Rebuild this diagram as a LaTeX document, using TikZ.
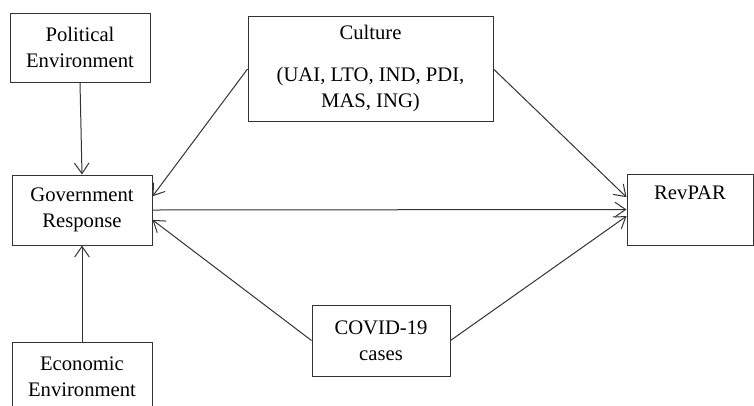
\documentclass[tikz,border=0pt]{standalone}
\usepackage{fontspec}
\setmainfont{Liberation Serif}
\usetikzlibrary{arrows.meta}

\begin{document}
\begin{tikzpicture}[
  x=0.75pt,y=-0.75pt,
  box/.style={draw=black!80, line width=0.75pt, align=center, inner sep=2pt, font=\fontsize{15.5}{19.5}\selectfont},
  arr/.style={-{Straight Barb[length=8pt,width=11pt]}, line width=0.75pt, draw=black!80}
]
\useasboundingbox (0,0) rectangle (754,405);
\clip (0,0) rectangle (754,405);
\node[box, minimum width=105pt, minimum height=51.75pt] (pol) at (80,47.5) {Political\\Environment};
\node[box, minimum width=183.75pt, minimum height=78.75pt] (cul) at (370.5,69) {Culture\\[12pt](UAI, LTO, IND, PDI,\\MAS, ING)};
\node[box, minimum width=105pt, minimum height=52.5pt] (gov) at (82,210) {Government\\Response};
\node[box, minimum width=105pt, minimum height=52.5pt] (eco) at (82,377) {Economic\\Environment};
\node[box, minimum width=103.5pt, minimum height=53.25pt] (cov) at (381,340.5) {COVID-19\\cases};
\node[box, minimum width=94.5pt, minimum height=53.25pt] (rev) at (690,209.5) {RevPAR\\\strut};
\foreach \a/\b in {pol.south/gov.north, eco.north/gov.south, cul.west/gov.11, cov.west/gov.-8,
  gov.east/rev.west, cul.east/rev.169, cov.east/rev.186}{\draw[arr] (\a) -- (\b);}
\end{tikzpicture}
\end{document}
